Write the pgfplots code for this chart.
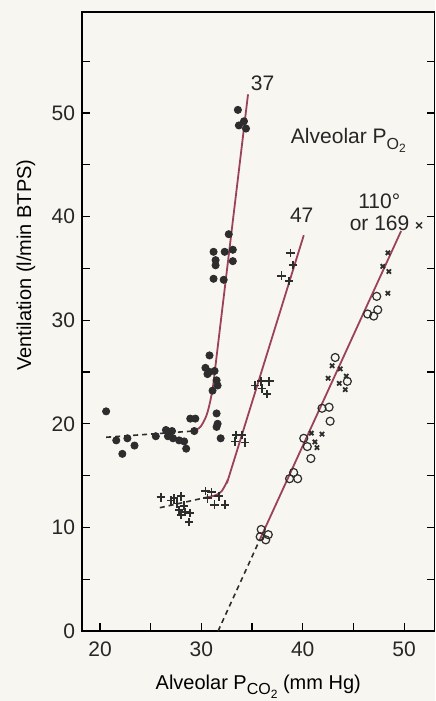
\documentclass[border=0pt]{standalone}
\usepackage{fontspec}
\setmainfont{Liberation Sans}
\usepackage{pgfplots}
\pgfplotsset{compat=1.18}

\definecolor{bgc}{RGB}{247,246,241}
\definecolor{lc}{RGB}{156,66,88}
\definecolor{mk}{RGB}{45,45,45}

% subscript with a second-level subscript, set in the text font
\newcommand{\sub}[2]{\raisebox{-0.55ex}{\fontsize{8}{9}\selectfont #1\raisebox{-0.45ex}{\fontsize{6}{7}\selectfont #2}}}

\begin{document}
\begin{tikzpicture}
\fill[bgc] (-41pt,-35pt) rectangle (176.5pt,315.5pt);
\begin{axis}[
  name=ax,
  scale only axis,
  width=176.25pt, height=309.5pt,
  xmin=18.22, xmax=53.0,
  ymin=0, ymax=59.75,
  xtick={20,30,40,50},
  minor xtick={25,35,45},
  ytick={0,10,20,30,40,50},
  minor ytick={5,15,25,35,45,55},
  xtick pos=left, ytick pos=both,
  yticklabel pos=left,
  tick align=inside,
  major tick length=4pt, minor tick length=4pt,
  every tick/.style={black, line width=0.6pt},
  axis line style={black, line width=0.7pt},
  /pgf/number format/assume math mode=true,
  tick label style={font=\fontsize{10.5}{12}\selectfont, text=black!85},
  xticklabel style={yshift=-2pt},
  label style={font=\fontsize{10.5}{12}\selectfont, text=black!85},
  xlabel={Alveolar P\sub{CO}{2} (mm Hg)},
  ylabel={Ventilation (l/min BTPS)},
  every axis x label/.style={at={(axis description cs:0.5,-0.09)}, anchor=center},
  every axis y label/.style={at={(axis description cs:-0.159,0.591)}, anchor=center, rotate=90},
  clip=false,
]
% alveolar PO2 = 37
\addplot[only marks, mark=*, mark size=1.8pt, mk, mark options={fill=mk}] coordinates {
(20.6,21.2) (21.6,18.4) (22.2,17.1) (22.7,18.6) (23.4,17.9) (25.5,18.8)
(26.5,19.4) (27.1,19.3) (26.7,18.8) (27.2,18.6) (27.8,18.4) (28.3,18.3)
(28.5,17.6) (28.9,20.5) (29.4,20.5) (29.3,19.3) (30.8,26.6) (30.4,25.4)
(30.8,25.0) (31.3,25.1) (30.6,24.8) (31.5,24.2) (31.6,23.7) (31.1,23.2)
(31.5,21.0) (31.6,20.0) (31.5,19.7) (31.9,18.6) (31.2,36.6) (31.4,35.8)
(31.4,35.3) (31.2,34.0) (32.3,36.6) (33.1,35.7) (32.2,33.9) (32.7,38.3)
(33.1,36.8) (33.6,50.3) (33.7,48.8) (34.2,49.2) (34.4,48.5)
};
\addplot[mk, line width=0.8pt, dash pattern=on 2.5pt off 2pt] coordinates {(20.6,18.7) (29.2,19.3)};
\addplot[lc, line width=0.9pt, smooth, tension=0.5] coordinates {
(29.2,19.3) (29.9,19.7) (30.5,20.8) (30.9,22.3) (31.2,24.0) (31.5,26.5) (34.6,51.8)
};
% alveolar PO2 = 47
\addplot[only marks, mark=+, mark size=2.1pt, mk, line width=0.9pt] coordinates {
(26.0,12.9) (27.0,12.6) (27.3,12.8) (28.0,13.0) (27.6,12.3) (28.3,12.1)
(27.8,11.7) (28.4,11.5) (28.9,11.4) (28.0,11.2) (28.8,10.5) (30.4,13.5)
(31.0,13.4) (30.6,12.8) (31.3,12.2) (32.3,12.2) (31.7,13.0)
(33.4,18.9) (34.0,18.9) (33.3,18.3) (34.3,18.2)
(35.3,23.7) (35.9,24.1) (36.7,24.1) (36.0,23.4) (36.5,22.9)
(37.9,34.3) (38.65,33.8) (39.05,35.3) (38.8,36.5)
};
\addplot[mk, line width=0.8pt, dash pattern=on 2.5pt off 2pt] coordinates {(25.9,11.9) (30.5,12.9)};
\addplot[lc, line width=0.9pt, smooth, tension=0.5] coordinates {
(30.5,12.9) (31.4,13.1) (32.0,13.5) (32.6,14.6) (33.1,16.1) (40.1,38.2)
};
% alveolar PO2 = 110
\addplot[only marks, mark=o, mark size=2pt, mk, line width=0.6pt] coordinates {
(35.9,9.8) (35.8,9.1) (36.35,8.8) (36.6,9.3) (38.7,14.7) (39.1,15.3)
(39.5,14.7) (40.1,18.6) (40.45,17.8) (40.8,16.65) (41.9,21.5) (42.6,21.6)
(42.7,20.25) (43.2,26.4) (44.4,24.1) (46.4,30.6) (47.0,30.4) (47.4,31.0)
(47.3,32.3)
};
% alveolar PO2 = 169
\addplot[only marks, mark=x, mark size=1.5pt, mk, line width=0.9pt] coordinates {
(40.85,19.1) (41.9,19.0) (41.2,18.25) (41.4,17.7)
(42.9,25.6) (42.5,24.4) (43.7,25.3) (43.6,23.9) (44.3,24.6) (44.2,23.3)
(48.4,36.5) (47.9,35.2) (48.5,34.7) (48.4,32.6)
};
\addplot[mk, line width=0.8pt, dash pattern=on 2.5pt off 2pt] coordinates {(31.65,0) (35.8,8.9)};
\addplot[lc, line width=0.9pt] coordinates {(35.8,8.9) (49.7,38.6)};

\node[font=\fontsize{10.5}{12}\selectfont, text=black!85] at (axis cs:36.04,52.9) {37};
\node[font=\fontsize{10.5}{12}\selectfont, text=black!85] at (axis cs:39.9,40.15) {47};
\node[font=\fontsize{10.5}{12}\selectfont, text=black!85, anchor=base west, inner sep=0pt] at (axis cs:38.8,47.1) {Alveolar P\sub{O}{2}};
\node[font=\fontsize{10.5}{12}\selectfont, text=black!85, anchor=base, inner sep=0pt] at (axis cs:47.55,40.8) {110°};
\node[font=\fontsize{10.5}{12}\selectfont, text=black!85, anchor=base west, inner sep=0pt] at (axis cs:44.6,38.7) {or 169 {\fontsize{7}{8}\selectfont\bfseries ×}};
\end{axis}
\pgfresetboundingbox
\path[use as bounding box] (-41pt,-35pt) rectangle (176.5pt,315.5pt);
\end{tikzpicture}
\end{document}
